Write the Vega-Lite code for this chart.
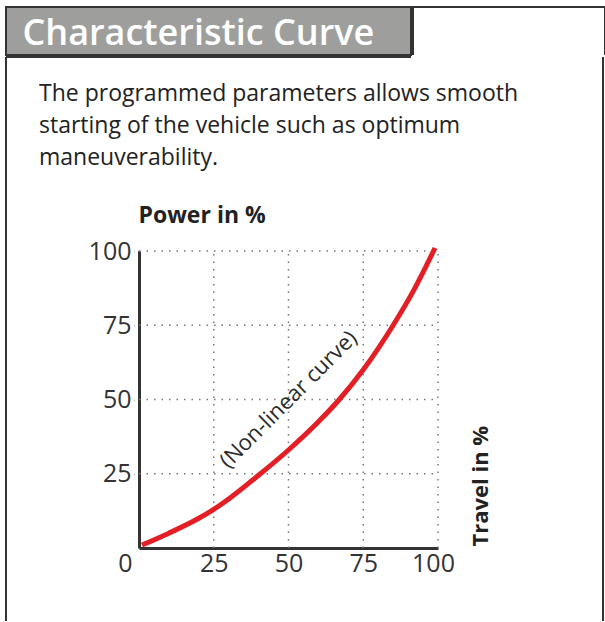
{
  "$schema": "https://vega.github.io/schema/vega-lite/v6.json",
  "padding": {"left": 5, "top": 6, "right": 3, "bottom": 0},
  "spacing": 0,
  "config": {"font": "Open Sans", "view": {"stroke": null}},
  "datasets": {
    "curve": [
      {"travel": 1, "power": 1},
      {"travel": 10, "power": 5},
      {"travel": 20, "power": 10},
      {"travel": 25, "power": 13},
      {"travel": 30, "power": 16.5},
      {"travel": 40, "power": 24.5},
      {"travel": 50, "power": 33},
      {"travel": 60, "power": 42.5},
      {"travel": 67, "power": 50},
      {"travel": 75, "power": 60},
      {"travel": 85, "power": 75},
      {"travel": 92, "power": 87},
      {"travel": 99, "power": 101}
    ],
    "grid": [{"v": 25}, {"v": 50}, {"v": 75}, {"v": 100}],
    "note": [{"travel": 50, "power": 50, "label": "(Non-linear curve)"}]
  },
  "vconcat": [
    {
      "spacing": 0,
      "hconcat": [
        {
          "width": 405,
          "height": 48,
          "view": {"fill": "#9e9f9d", "stroke": "#333333", "strokeWidth": 2},
          "data": {"values": [{"t": "Characteristic Curve"}]},
          "mark": {"type": "text", "align": "left", "baseline": "alphabetic", "dx": -186, "dy": 14, "fontSize": 36, "fontWeight": 600, "fill": "#ffffff"},
          "encoding": {"text": {"field": "t"}}
        },
        {
          "width": 192,
          "height": 48,
          "view": {"fill": "#ffffff", "stroke": "#333333", "strokeWidth": 2, "strokeDash": [240, 192, 100]},
          "data": {"values": [{"t": ""}]},
          "mark": "text",
          "encoding": {"text": {"field": "t"}}
        }
      ]
    },
    {
      "width": 597,
      "height": 564,
      "view": {"fill": "#ffffff", "stroke": "#333333", "strokeWidth": 2, "strokeDash": [405, 192, 564, 597, 564, 0]},
      "title": {
        "text": ["The programmed parameters allows smooth", "starting of the vehicle such as optimum", "maneuverability."],
        "anchor": "start",
        "frame": "group",
        "dx": 33,
        "dy": 117,
        "fontSize": 23,
        "fontWeight": "normal",
        "color": "#222222",
        "lineHeight": 32
      },
      "layer": [
        {
          "data": {"name": "grid"},
          "mark": {"type": "rule", "stroke": "#777777", "strokeWidth": 1.5, "strokeDash": [1.5, 6]},
          "encoding": {
            "x": {"field": "v", "type": "quantitative", "title": "Travel in %", "scale": {"domain": [0, 100], "range": [133, 432], "nice": false, "zero": false}},
            "y": {"datum": 0, "type": "quantitative", "title": "Power in %", "scale": {"domain": [0, 100], "range": [491, 194], "nice": false, "zero": false}},
            "y2": {"datum": 100}
          }
        },
        {
          "data": {"name": "grid"},
          "mark": {"type": "rule", "stroke": "#777777", "strokeWidth": 1.5, "strokeDash": [1.5, 6]},
          "encoding": {
            "y": {"field": "v", "type": "quantitative", "title": "Power in %"},
            "x": {"datum": 0, "type": "quantitative", "title": "Travel in %"},
            "x2": {"datum": 100}
          }
        },
        {
          "data": {"name": "curve"},
          "mark": {"type": "line", "stroke": "#e31e25", "strokeWidth": 5, "interpolate": "monotone"},
          "encoding": {
            "x": {
              "field": "travel", "type": "quantitative", "title": "Travel in %",
              "axis": {
                "values": [0, 25, 50, 75, 100], "offset": -73, "grid": false, "ticks": false,
                "domainColor": "#333333", "domainWidth": 3,
                "labelFontSize": 25, "labelColor": "#333333", "labelPadding": 3, "labelFlush": false,
                "labelOffset": {"condition": [{"test": "datum.value === 0", "value": -14}, {"test": "datum.value === 100", "value": -5}], "value": 0},
                "titleAngle": -90, "titleX": 481, "titleY": -2, "titleAlign": "left", "titleBaseline": "alphabetic",
                "titleFontSize": 22, "titleFontWeight": "bold", "titleColor": "#222222"
              }
            },
            "y": {
              "field": "power", "type": "quantitative", "title": "Power in %",
              "axis": {
                "values": [25, 50, 75, 100], "offset": -133, "grid": false,
                "ticks": true, "tickSize": 5, "tickColor": "#777777", "tickDash": [1.5, 3], "tickWidth": 1.5,
                "domainColor": "#333333", "domainWidth": 3,
                "labelFontSize": 25, "labelColor": "#333333", "labelPadding": 3,
                "titleAngle": 0, "titleX": -1, "titleY": 165, "titleAlign": "left", "titleBaseline": "alphabetic",
                "titleFontSize": 23, "titleFontWeight": "bold", "titleColor": "#222222"
              }
            }
          }
        },
        {
          "data": {"name": "note"},
          "mark": {"type": "text", "angle": -45, "fontSize": 22, "fill": "#2b2b2b", "align": "center", "baseline": "middle"},
          "encoding": {
            "x": {"field": "travel", "type": "quantitative", "title": "Travel in %"},
            "y": {"field": "power", "type": "quantitative", "title": "Power in %"},
            "text": {"field": "label"}
          }
        }
      ]
    }
  ]
}
